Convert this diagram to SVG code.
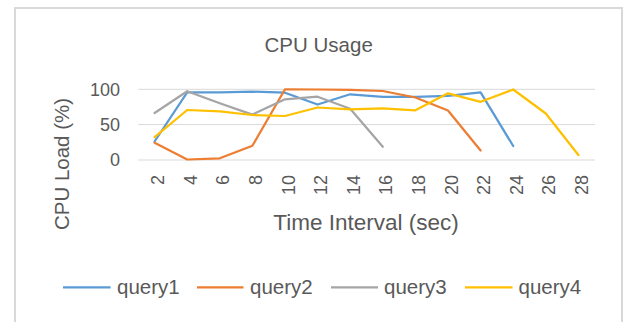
<svg xmlns="http://www.w3.org/2000/svg" width="624" height="322" viewBox="0 0 624 322">
<style>
text{font-family:"Liberation Sans",Arial,sans-serif;fill:#595959}
.grid{stroke:#d9d9d9;stroke-width:1;fill:none}
.s{fill:none;stroke-width:2.25;stroke-linejoin:round;stroke-linecap:round}
.tk{font-size:18px}
.xt{font-size:18px;text-anchor:end}
.lg{font-size:20.5px}
</style>
<rect x="0" y="0" width="624" height="322" fill="#ffffff"/>
<rect id="frame" x="15" y="8" width="607" height="330" fill="#ffffff" stroke="#d9d9d9" stroke-width="2"/>
<text id="title" x="318.7" y="51.5" font-size="20.5" text-anchor="middle">CPU Usage</text>
<g id="gridlines">
<line class="grid" x1="138.3" y1="89.3" x2="595" y2="89.3"/>
<line class="grid" x1="138.3" y1="124.6" x2="595" y2="124.6"/>
<line class="grid" x1="138.3" y1="160" x2="595" y2="160"/>
</g>
<g id="y-axis">
<text class="tk" x="120" y="95.7" text-anchor="end">100</text>
<text class="tk" x="120" y="131" text-anchor="end">50</text>
<text class="tk" x="120" y="166.4" text-anchor="end">0</text>
<text x="69" y="164" font-size="20.5" text-anchor="middle" transform="rotate(-90 69 164)">CPU Load (%)</text>
</g>
<g id="x-axis">
<text class="xt" transform="translate(164.1 175) rotate(-90)">2</text>
<text class="xt" transform="translate(196.7 175) rotate(-90)">4</text>
<text class="xt" transform="translate(229.3 175) rotate(-90)">6</text>
<text class="xt" transform="translate(261.9 175) rotate(-90)">8</text>
<text class="xt" transform="translate(294.5 175) rotate(-90)">10</text>
<text class="xt" transform="translate(327.1 175) rotate(-90)">12</text>
<text class="xt" transform="translate(359.7 175) rotate(-90)">14</text>
<text class="xt" transform="translate(392.3 175) rotate(-90)">16</text>
<text class="xt" transform="translate(424.9 175) rotate(-90)">18</text>
<text class="xt" transform="translate(457.5 175) rotate(-90)">20</text>
<text class="xt" transform="translate(490.1 175) rotate(-90)">22</text>
<text class="xt" transform="translate(522.7 175) rotate(-90)">24</text>
<text class="xt" transform="translate(555.3 175) rotate(-90)">26</text>
<text class="xt" transform="translate(587.9 175) rotate(-90)">28</text>
<text x="366" y="229.5" font-size="22.5" text-anchor="middle">Time Interval (sec)</text>
</g>
<g id="series">
<polyline id="query1" class="s" stroke="#5B9BD5" points="154.6,141.5 187.2,92.3 219.8,92.3 252.4,91.7 285,92.7 317.6,104.5 350.2,94.3 382.8,96.8 415.4,96.8 448,95.8 480.6,92.3 513.2,146"/>
<polyline id="query2" class="s" stroke="#ED7D31" points="154.6,142.7 187.2,159.5 219.8,158.3 252.4,145.7 285,89.3 317.6,89.5 350.2,89.8 382.8,91 415.4,97.5 448,110.5 480.6,150.5"/>
<polyline id="query3" class="s" stroke="#A5A5A5" points="154.6,113 187.2,91.2 219.8,103.3 252.4,114.6 285,99.3 317.6,96.7 350.2,108.8 382.8,146.7"/>
<polyline id="query4" class="s" stroke="#FFC000" points="154.6,137.2 187.2,110 219.8,111.3 252.4,115 285,116 317.6,107.5 350.2,109.3 382.8,108.3 415.4,110.3 448,93.3 480.6,101.8 513.2,89.5 545.8,113.5 578.4,155"/>
</g>
<g id="legend">
<line x1="63" y1="287.3" x2="110.6" y2="287.3" stroke="#5B9BD5" stroke-width="2.25"/>
<text class="lg" x="117" y="293.5">query1</text>
<line x1="197" y1="287.3" x2="243.5" y2="287.3" stroke="#ED7D31" stroke-width="2.25"/>
<text class="lg" x="250" y="293.5">query2</text>
<line x1="331" y1="287.3" x2="378" y2="287.3" stroke="#A5A5A5" stroke-width="2.25"/>
<text class="lg" x="384" y="293.5">query3</text>
<line x1="465" y1="287.3" x2="512.5" y2="287.3" stroke="#FFC000" stroke-width="2.25"/>
<text class="lg" x="518.5" y="293.5">query4</text>
</g>
</svg>
